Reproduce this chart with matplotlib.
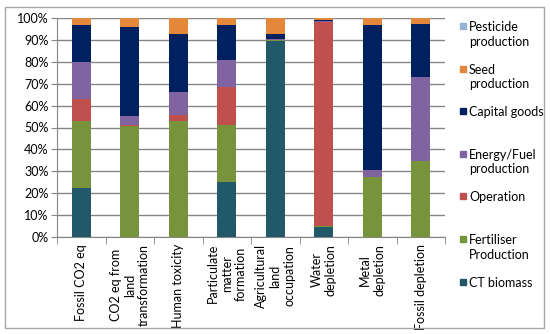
import numpy as np
import matplotlib
matplotlib.use("Agg")
import matplotlib.pyplot as plt
from matplotlib.patches import Rectangle

plt.rcParams['font.family'] = ['Lato', 'DejaVu Sans']

categories = ["Fossil CO2 eq", "CO2 eq from\nland\ntransformation", "Human toxicity",
              "Particulate\nmatter\nformation", "Agricultural\nland\noccupation",
              "Water\ndepletion", "Metal\ndepletion", "Fossil depletion"]

# stacked from bottom to top, in percent
ct_biomass = [22.3, 0.0, 0.0, 24.9, 89.4, 4.4, 0.0, 0.0]
fertiliser = [30.7, 50.7, 53.1, 26.2, 0.6, 0.4, 27.2, 34.6]
operation = [10.0, 0.3, 2.6, 17.3, 0.0, 93.4, 0.3, 0.3]
energy_fuel = [17.0, 4.4, 10.5, 12.6, 0.2, 0.3, 3.2, 38.1]
capital_goods = [16.7, 40.6, 26.4, 16.0, 2.4, 0.4, 66.0, 24.4]
seed = [3.3, 4.0, 7.4, 3.0, 7.4, 1.1, 3.3, 2.6]
pesticide = [0.0, 0.0, 0.0, 0.0, 0.0, 0.0, 0.0, 0.0]

series = [("CT biomass", ct_biomass, "#215968"),
          ("Fertiliser\nProduction", fertiliser, "#77933C"),
          ("Operation", operation, "#C0504D"),
          ("Energy/Fuel\nproduction", energy_fuel, "#8064A2"),
          ("Capital goods", capital_goods, "#002060"),
          ("Seed\nproduction", seed, "#E3873A"),
          ("Pesticide\nproduction", pesticide, "#95B3D7")]

fig = plt.figure(figsize=(5.5, 3.34), dpi=100)
ax = fig.add_axes([57/550, 1-237/334, (445-57)/550, (237-18)/334])

x = np.arange(len(categories))
bottom = np.zeros(len(categories))
for name, vals, col in series:
    vals = np.array(vals)
    ax.bar(x, vals, width=0.4, bottom=bottom, color=col, zorder=3)
    bottom += vals

ax.set_xlim(-0.5, len(categories) - 0.5)
ax.set_ylim(0, 100)
ax.set_yticks(np.arange(0, 101, 10))
ax.set_yticklabels([f"{v}%" for v in range(0, 101, 10)], fontsize=9)
ax.yaxis.grid(True, color="#868686", lw=1, zorder=0)
ax.tick_params(axis='y', length=4, color="#868686", pad=2)

ax.set_xticks(x)
ax.set_xticklabels(categories, rotation=90, fontsize=9, multialignment='center')
ax.set_xticks(np.arange(-0.5, len(categories)), minor=True)
ax.tick_params(axis='x', which='major', length=0, pad=5)
ax.tick_params(axis='x', which='minor', length=5, color="#868686")

for s in ['top', 'right']:
    ax.spines[s].set_visible(False)
for s in ['left', 'bottom']:
    ax.spines[s].set_color("#868686")

# legend, drawn by hand so markers line up with the first text line
y0 = 1 - 26/334
step = 42.6/334
for i, (name, vals, col) in enumerate(reversed(series)):
    yy = y0 - i*step
    fig.patches.append(Rectangle((460/550, yy - 3/334), 6/550, 6/334,
                                 transform=fig.transFigure, color=col))
    fig.text(469/550, yy + 5/334, name, fontsize=9, va='top', ha='left',
             linespacing=1.25)

fig.patches.append(Rectangle((5/550, 6/334), 539/550, 321/334, transform=fig.transFigure,
                             fill=False, ec="#a6a6a6", lw=1))

fig.savefig("out.png", dpi=100)
